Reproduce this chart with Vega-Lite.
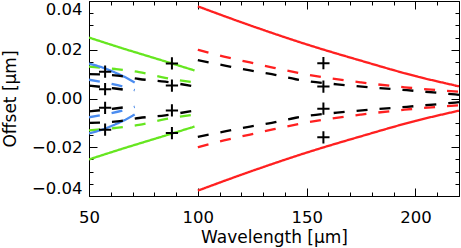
{
  "$schema": "https://vega.github.io/schema/vega-lite/v6.json",
  "width": 370,
  "height": 195,
  "autosize": "none",
  "padding": {"left": 89, "top": 1, "right": 2, "bottom": 52},
  "background": "white",
  "config": {
    "view": {"stroke": null},
    "axis": {
      "grid": false,
      "domainColor": "black",
      "tickColor": "black",
      "labelColor": "black",
      "titleColor": "black",
      "labelFont": "DejaVu Sans",
      "titleFont": "DejaVu Sans",
      "labelFontSize": 16.5,
      "titleFontSize": 17,
      "titleFontWeight": "normal",
      "domainWidth": 1,
      "tickWidth": 1,
      "labelOverlap": false
    }
  },
  "datasets": {
    "lines": [
      {"id": "gs+", "group": "green", "style": "solid", "x": 50, "y": 0.025},
      {"id": "gs+", "group": "green", "style": "solid", "x": 65, "y": 0.0207},
      {"id": "gs+", "group": "green", "style": "solid", "x": 80, "y": 0.0166},
      {"id": "gs+", "group": "green", "style": "solid", "x": 98.5, "y": 0.0115},
      {"id": "gs-", "group": "green", "style": "solid", "x": 50, "y": -0.025},
      {"id": "gs-", "group": "green", "style": "solid", "x": 65, "y": -0.0207},
      {"id": "gs-", "group": "green", "style": "solid", "x": 80, "y": -0.0166},
      {"id": "gs-", "group": "green", "style": "solid", "x": 98.5, "y": -0.0115},
      {"id": "gd+", "group": "green", "style": "dashed", "x": 50, "y": 0.0131},
      {"id": "gd+", "group": "green", "style": "dashed", "x": 62, "y": 0.0121},
      {"id": "gd+", "group": "green", "style": "dashed", "x": 73, "y": 0.0108},
      {"id": "gd+", "group": "green", "style": "dashed", "x": 85, "y": 0.0085},
      {"id": "gd+", "group": "green", "style": "dashed", "x": 98.5, "y": 0.0066},
      {"id": "gd-", "group": "green", "style": "dashed", "x": 50, "y": -0.0131},
      {"id": "gd-", "group": "green", "style": "dashed", "x": 62, "y": -0.0121},
      {"id": "gd-", "group": "green", "style": "dashed", "x": 73, "y": -0.0108},
      {"id": "gd-", "group": "green", "style": "dashed", "x": 85, "y": -0.0085},
      {"id": "gd-", "group": "green", "style": "dashed", "x": 98.5, "y": -0.0066},
      {"id": "bs+", "group": "blue", "style": "solid", "x": 50, "y": 0.0143},
      {"id": "bs+", "group": "blue", "style": "solid", "x": 54.5, "y": 0.0132},
      {"id": "bs+", "group": "blue", "style": "solid", "x": 60.5, "y": 0.0112},
      {"id": "bs+", "group": "blue", "style": "solid", "x": 66.5, "y": 0.0088},
      {"id": "bs+", "group": "blue", "style": "solid", "x": 71, "y": 0.0066},
      {"id": "bs-", "group": "blue", "style": "solid", "x": 50, "y": -0.0143},
      {"id": "bs-", "group": "blue", "style": "solid", "x": 54.5, "y": -0.0132},
      {"id": "bs-", "group": "blue", "style": "solid", "x": 60.5, "y": -0.0112},
      {"id": "bs-", "group": "blue", "style": "solid", "x": 66.5, "y": -0.0088},
      {"id": "bs-", "group": "blue", "style": "solid", "x": 71, "y": -0.0066},
      {"id": "bd+", "group": "blue", "style": "dashed", "x": 50, "y": 0.0077},
      {"id": "bd+", "group": "blue", "style": "dashed", "x": 58, "y": 0.0064},
      {"id": "bd+", "group": "blue", "style": "dashed", "x": 66.5, "y": 0.0047},
      {"id": "bd+", "group": "blue", "style": "dashed", "x": 71, "y": 0.0034},
      {"id": "bd-", "group": "blue", "style": "dashed", "x": 50, "y": -0.0077},
      {"id": "bd-", "group": "blue", "style": "dashed", "x": 58, "y": -0.0064},
      {"id": "bd-", "group": "blue", "style": "dashed", "x": 66.5, "y": -0.0047},
      {"id": "bd-", "group": "blue", "style": "dashed", "x": 71, "y": -0.0034},
      {"id": "ko+", "group": "black", "style": "dashed", "x": 50, "y": 0.01},
      {"id": "ko+", "group": "black", "style": "dashed", "x": 63, "y": 0.0094},
      {"id": "ko+", "group": "black", "style": "dashed", "x": 73, "y": 0.008},
      {"id": "ko+", "group": "black", "style": "dashed", "x": 85, "y": 0.0069},
      {"id": "ko+", "group": "black", "style": "dashed", "x": 98, "y": 0.005},
      {"id": "ko-", "group": "black", "style": "dashed", "x": 50, "y": -0.01},
      {"id": "ko-", "group": "black", "style": "dashed", "x": 63, "y": -0.0094},
      {"id": "ko-", "group": "black", "style": "dashed", "x": 73, "y": -0.008},
      {"id": "ko-", "group": "black", "style": "dashed", "x": 85, "y": -0.0069},
      {"id": "ko-", "group": "black", "style": "dashed", "x": 98, "y": -0.005},
      {"id": "ki+", "group": "black", "style": "dashed", "x": 50, "y": 0.0053},
      {"id": "ki+", "group": "black", "style": "dashed", "x": 62, "y": 0.0041},
      {"id": "ki+", "group": "black", "style": "dashed", "x": 71, "y": 0.003},
      {"id": "ki-", "group": "black", "style": "dashed", "x": 50, "y": -0.0053},
      {"id": "ki-", "group": "black", "style": "dashed", "x": 62, "y": -0.0041},
      {"id": "ki-", "group": "black", "style": "dashed", "x": 71, "y": -0.003},
      {"id": "kr+", "group": "black", "style": "dashed", "x": 100, "y": 0.0157},
      {"id": "kr+", "group": "black", "style": "dashed", "x": 113, "y": 0.0134},
      {"id": "kr+", "group": "black", "style": "dashed", "x": 124, "y": 0.0115},
      {"id": "kr+", "group": "black", "style": "dashed", "x": 134, "y": 0.01},
      {"id": "kr+", "group": "black", "style": "dashed", "x": 145, "y": 0.0079},
      {"id": "kr+", "group": "black", "style": "dashed", "x": 164, "y": 0.0058},
      {"id": "kr+", "group": "black", "style": "dashed", "x": 180, "y": 0.0045},
      {"id": "kr+", "group": "black", "style": "dashed", "x": 196, "y": 0.0034},
      {"id": "kr+", "group": "black", "style": "dashed", "x": 213, "y": 0.0021},
      {"id": "kr+", "group": "black", "style": "dashed", "x": 220, "y": 0.0015},
      {"id": "kr-", "group": "black", "style": "dashed", "x": 100, "y": -0.0157},
      {"id": "kr-", "group": "black", "style": "dashed", "x": 113, "y": -0.0134},
      {"id": "kr-", "group": "black", "style": "dashed", "x": 124, "y": -0.0115},
      {"id": "kr-", "group": "black", "style": "dashed", "x": 134, "y": -0.01},
      {"id": "kr-", "group": "black", "style": "dashed", "x": 145, "y": -0.0079},
      {"id": "kr-", "group": "black", "style": "dashed", "x": 164, "y": -0.0058},
      {"id": "kr-", "group": "black", "style": "dashed", "x": 180, "y": -0.0045},
      {"id": "kr-", "group": "black", "style": "dashed", "x": 196, "y": -0.0034},
      {"id": "kr-", "group": "black", "style": "dashed", "x": 213, "y": -0.0021},
      {"id": "kr-", "group": "black", "style": "dashed", "x": 220, "y": -0.0015},
      {"id": "rs+", "group": "red", "style": "solid", "x": 100, "y": 0.0378},
      {"id": "rs+", "group": "red", "style": "solid", "x": 125, "y": 0.0297},
      {"id": "rs+", "group": "red", "style": "solid", "x": 150, "y": 0.0222},
      {"id": "rs+", "group": "red", "style": "solid", "x": 175, "y": 0.0155},
      {"id": "rs+", "group": "red", "style": "solid", "x": 200, "y": 0.0092},
      {"id": "rs+", "group": "red", "style": "solid", "x": 220, "y": 0.005},
      {"id": "rs-", "group": "red", "style": "solid", "x": 100, "y": -0.0378},
      {"id": "rs-", "group": "red", "style": "solid", "x": 125, "y": -0.0297},
      {"id": "rs-", "group": "red", "style": "solid", "x": 150, "y": -0.0222},
      {"id": "rs-", "group": "red", "style": "solid", "x": 175, "y": -0.0155},
      {"id": "rs-", "group": "red", "style": "solid", "x": 200, "y": -0.0092},
      {"id": "rs-", "group": "red", "style": "solid", "x": 220, "y": -0.005},
      {"id": "rd+", "group": "red", "style": "dashed", "x": 100, "y": 0.02},
      {"id": "rd+", "group": "red", "style": "dashed", "x": 112, "y": 0.0172},
      {"id": "rd+", "group": "red", "style": "dashed", "x": 124, "y": 0.0148},
      {"id": "rd+", "group": "red", "style": "dashed", "x": 135, "y": 0.0126},
      {"id": "rd+", "group": "red", "style": "dashed", "x": 145, "y": 0.0107},
      {"id": "rd+", "group": "red", "style": "dashed", "x": 157, "y": 0.0088},
      {"id": "rd+", "group": "red", "style": "dashed", "x": 175, "y": 0.0066},
      {"id": "rd+", "group": "red", "style": "dashed", "x": 195, "y": 0.0046},
      {"id": "rd+", "group": "red", "style": "dashed", "x": 212, "y": 0.0033},
      {"id": "rd+", "group": "red", "style": "dashed", "x": 220, "y": 0.0028},
      {"id": "rd-", "group": "red", "style": "dashed", "x": 100, "y": -0.02},
      {"id": "rd-", "group": "red", "style": "dashed", "x": 112, "y": -0.0172},
      {"id": "rd-", "group": "red", "style": "dashed", "x": 124, "y": -0.0148},
      {"id": "rd-", "group": "red", "style": "dashed", "x": 135, "y": -0.0126},
      {"id": "rd-", "group": "red", "style": "dashed", "x": 145, "y": -0.0107},
      {"id": "rd-", "group": "red", "style": "dashed", "x": 157, "y": -0.0088},
      {"id": "rd-", "group": "red", "style": "dashed", "x": 175, "y": -0.0066},
      {"id": "rd-", "group": "red", "style": "dashed", "x": 195, "y": -0.0046},
      {"id": "rd-", "group": "red", "style": "dashed", "x": 212, "y": -0.0033},
      {"id": "rd-", "group": "red", "style": "dashed", "x": 220, "y": -0.0028}
    ],
    "marks": [
      {"x": 57.4, "y": 0.011},
      {"x": 57.4, "y": 0.0038},
      {"x": 57.4, "y": -0.0038},
      {"x": 57.4, "y": -0.0128},
      {"x": 88.1, "y": 0.0144},
      {"x": 88.1, "y": 0.0053},
      {"x": 88.1, "y": -0.0049},
      {"x": 88.1, "y": -0.0142},
      {"x": 157.7, "y": 0.0145},
      {"x": 157.7, "y": 0.0049},
      {"x": 157.7, "y": -0.0042},
      {"x": 157.7, "y": -0.0159}
    ]
  },
  "layer": [
    {
      "data": {"name": "lines"},
      "mark": {"type": "line", "strokeWidth": 2.3, "interpolate": "monotone", "clip": true},
      "encoding": {
        "x": {
          "field": "x", "type": "quantitative",
          "scale": {"domain": [50, 220], "nice": false, "zero": false},
          "axis": {"orient": "bottom", "values": [50, 100, 150, 200], "tickSize": -8, "labelPadding": 21, "labelFlush": false, "title": "Wavelength [μm]", "titlePadding": 4}
        },
        "y": {
          "field": "y", "type": "quantitative",
          "scale": {"domain": [-0.04, 0.04], "nice": false, "zero": false},
          "axis": {"orient": "left", "values": [-0.04, -0.02, 0, 0.02, 0.04], "format": ".2f", "tickSize": -8, "labelPadding": 15, "labelFlush": true, "labelFlushOffset": 0, "title": "Offset [μm]", "titlePadding": 12}
        },
        "color": {
          "field": "group", "type": "nominal",
          "scale": {"domain": ["green", "blue", "black", "red"], "range": ["#66e620", "#4a8cf0", "#000000", "#ff2020"]},
          "legend": null
        },
        "strokeDash": {
          "field": "style", "type": "nominal",
          "scale": {"domain": ["solid", "dashed"], "range": [[1, 0], [11, 12]]},
          "legend": null
        },
        "detail": {"field": "id", "type": "nominal"}
      }
    },
    {
      "data": {"name": "marks"},
      "mark": {"type": "point", "shape": "M-1,0L1,0M0,-1L0,1", "filled": false, "color": "black", "strokeWidth": 2, "size": 150, "opacity": 1},
      "encoding": {
        "x": {
          "field": "x", "type": "quantitative",
          "scale": {"domain": [50, 220], "nice": false, "zero": false},
          "axis": {"orient": "top", "values": [50, 100, 150, 200], "tickSize": -8, "labels": false, "title": null}
        },
        "y": {
          "field": "y", "type": "quantitative",
          "scale": {"domain": [-0.04, 0.04], "nice": false, "zero": false},
          "axis": {"orient": "right", "values": [-0.04, -0.02, 0, 0.02, 0.04], "tickSize": -8, "labels": false, "title": null}
        }
      }
    },
    {
      "data": {"name": "marks"},
      "mark": {"type": "point", "opacity": 0, "size": 1},
      "encoding": {
        "x": {
          "field": "x", "type": "quantitative",
          "scale": {"domain": [50, 220], "nice": false, "zero": false},
          "axis": {"orient": "bottom", "values": [60, 70, 80, 90, 110, 120, 130, 140, 160, 170, 180, 190, 210, 220], "tickSize": -4, "labels": false, "title": null, "domain": false}
        },
        "y": {
          "field": "y", "type": "quantitative",
          "scale": {"domain": [-0.04, 0.04], "nice": false, "zero": false},
          "axis": {"orient": "left", "values": [-0.035, -0.03, -0.025, -0.015, -0.01, -0.005, 0.005, 0.01, 0.015, 0.025, 0.03, 0.035], "tickSize": -4, "labels": false, "title": null, "domain": false}
        }
      }
    },
    {
      "data": {"name": "marks"},
      "mark": {"type": "point", "opacity": 0, "size": 1},
      "encoding": {
        "x": {
          "field": "x", "type": "quantitative",
          "scale": {"domain": [50, 220], "nice": false, "zero": false},
          "axis": {"orient": "top", "values": [60, 70, 80, 90, 110, 120, 130, 140, 160, 170, 180, 190, 210, 220], "tickSize": -4, "labels": false, "title": null, "domain": false}
        },
        "y": {
          "field": "y", "type": "quantitative",
          "scale": {"domain": [-0.04, 0.04], "nice": false, "zero": false},
          "axis": {"orient": "right", "values": [-0.035, -0.03, -0.025, -0.015, -0.01, -0.005, 0.005, 0.01, 0.015, 0.025, 0.03, 0.035], "tickSize": -4, "labels": false, "title": null, "domain": false}
        }
      }
    }
  ],
  "resolve": {"axis": {"x": "independent", "y": "independent"}}
}
